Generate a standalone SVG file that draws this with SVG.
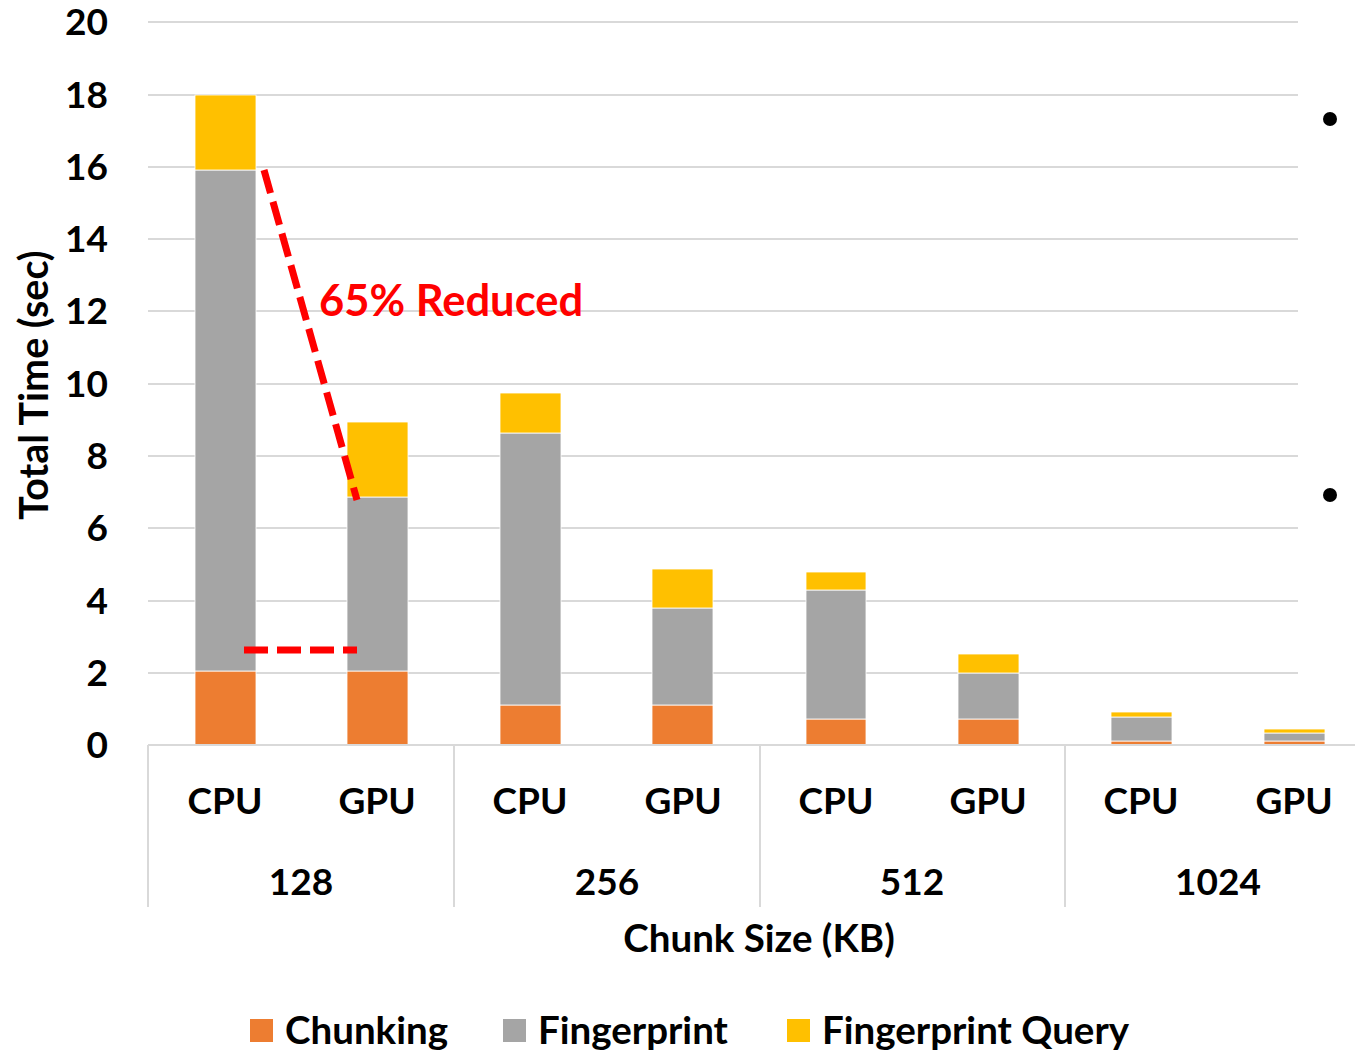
<svg xmlns="http://www.w3.org/2000/svg" width="1355" height="1050" viewBox="0 0 1355 1050">
<style>
.t{font-family:Lato,"Liberation Sans",sans-serif;font-weight:bold;fill:#000}
.tick{font-size:37px;text-anchor:end}
.cat{font-size:37px;text-anchor:middle}
.grid{stroke:#d9d9d9;stroke-width:2;fill:none}
.ch{fill:#ED7D31;stroke:#fff;stroke-width:0.8}
.fp{fill:#A5A5A5;stroke:#fff;stroke-width:0.8}
.fq{fill:#FFC000;stroke:#fff;stroke-width:0.8}
.red{stroke:#FF0000;stroke-width:7;fill:none;stroke-dasharray:24 9}
</style>
<rect width="1355" height="1050" fill="#fff"/>
<g id="gridlines">
<line class="grid" x1="148" y1="22" x2="1298" y2="22"/>
<line class="grid" x1="148" y1="95" x2="1298" y2="95"/>
<line class="grid" x1="148" y1="167" x2="1298" y2="167"/>
<line class="grid" x1="148" y1="239" x2="1298" y2="239"/>
<line class="grid" x1="148" y1="311" x2="1298" y2="311"/>
<line class="grid" x1="148" y1="384" x2="1298" y2="384"/>
<line class="grid" x1="148" y1="456" x2="1298" y2="456"/>
<line class="grid" x1="148" y1="528" x2="1298" y2="528"/>
<line class="grid" x1="148" y1="601" x2="1298" y2="601"/>
<line class="grid" x1="148" y1="673" x2="1298" y2="673"/>
</g>
<g id="y-ticks" class="t tick">
<text x="108" y="35">20</text>
<text x="108" y="108">18</text>
<text x="108" y="180">16</text>
<text x="108" y="252">14</text>
<text x="108" y="324">12</text>
<text x="108" y="397">10</text>
<text x="108" y="469">8</text>
<text x="108" y="541">6</text>
<text x="108" y="614">4</text>
<text x="108" y="686">2</text>
<text x="108" y="758">0</text>
</g>
<text id="y-title" class="t" font-size="39.5" text-anchor="middle" transform="translate(48,385) rotate(-90)">Total Time (sec)</text>
<g id="bars">
<g id="cpu128"><rect class="ch" x="195" y="671" width="61" height="74"/><rect class="fp" x="195" y="170" width="61" height="501"/><rect class="fq" x="195" y="95" width="61" height="75"/></g>
<g id="gpu128"><rect class="ch" x="347" y="671" width="61" height="74"/><rect class="fp" x="347" y="497" width="61" height="174"/><rect class="fq" x="347" y="422" width="61" height="75"/></g>
<g id="cpu256"><rect class="ch" x="500" y="705" width="61" height="40"/><rect class="fp" x="500" y="433" width="61" height="272"/><rect class="fq" x="500" y="393" width="61" height="40"/></g>
<g id="gpu256"><rect class="ch" x="652" y="705" width="61" height="40"/><rect class="fp" x="652" y="608" width="61" height="97"/><rect class="fq" x="652" y="569" width="61" height="39"/></g>
<g id="cpu512"><rect class="ch" x="806" y="719" width="60" height="26"/><rect class="fp" x="806" y="590" width="60" height="129"/><rect class="fq" x="806" y="572" width="60" height="18"/></g>
<g id="gpu512"><rect class="ch" x="958" y="719" width="61" height="26"/><rect class="fp" x="958" y="673" width="61" height="46"/><rect class="fq" x="958" y="654" width="61" height="19"/></g>
<g id="cpu1024"><rect class="ch" x="1111" y="741" width="61" height="4"/><rect class="fp" x="1111" y="717" width="61" height="24"/><rect class="fq" x="1111" y="712" width="61" height="5"/></g>
<g id="gpu1024"><rect class="ch" x="1264" y="741" width="61" height="4"/><rect class="fp" x="1264" y="733" width="61" height="8"/><rect class="fq" x="1264" y="729" width="61" height="4"/></g>
</g>
<g id="axis">
<line class="grid" x1="148" y1="745" x2="1355" y2="745"/>
<line class="grid" x1="148" y1="745" x2="148" y2="907"/>
<line class="grid" x1="454" y1="745" x2="454" y2="907"/>
<line class="grid" x1="760" y1="745" x2="760" y2="907"/>
<line class="grid" x1="1065" y1="745" x2="1065" y2="907"/>
</g>
<g id="x-labels" class="t cat">
<text x="225" y="814">CPU</text>
<text x="377" y="814">GPU</text>
<text x="530" y="814">CPU</text>
<text x="683" y="814">GPU</text>
<text x="836" y="814">CPU</text>
<text x="988" y="814">GPU</text>
<text x="1141" y="814">CPU</text>
<text x="1294" y="814">GPU</text>
<text x="301" y="895">128</text>
<text x="607" y="895">256</text>
<text x="912" y="895">512</text>
<text x="1218" y="895">1024</text>
</g>
<text id="x-title" class="t" font-size="38.5" text-anchor="middle" x="759" y="952">Chunk Size (KB)</text>
<g id="connectors">
<line class="red" x1="264" y1="170" x2="357" y2="500"/>
<line class="red" x1="244" y1="650" x2="357" y2="650"/>
</g>
<text id="annotation" class="t" font-size="43.5" x="319" y="316" style="fill:#FF0000">65% Reduced</text>
<g id="dots">
<circle cx="1330" cy="119" r="7" fill="#000"/>
<circle cx="1330" cy="495" r="7" fill="#000"/>
</g>
<g id="legend">
<rect x="250" y="1019" width="23" height="23" fill="#ED7D31"/>
<text class="t" font-size="38.5" x="285" y="1044">Chunking</text>
<rect x="503" y="1019" width="23" height="23" fill="#A5A5A5"/>
<text class="t" font-size="38.5" x="538" y="1044">Fingerprint</text>
<rect x="787" y="1019" width="23" height="23" fill="#FFC000"/>
<text class="t" font-size="38.5" x="822" y="1044">Fingerprint Query</text>
</g>
</svg>
